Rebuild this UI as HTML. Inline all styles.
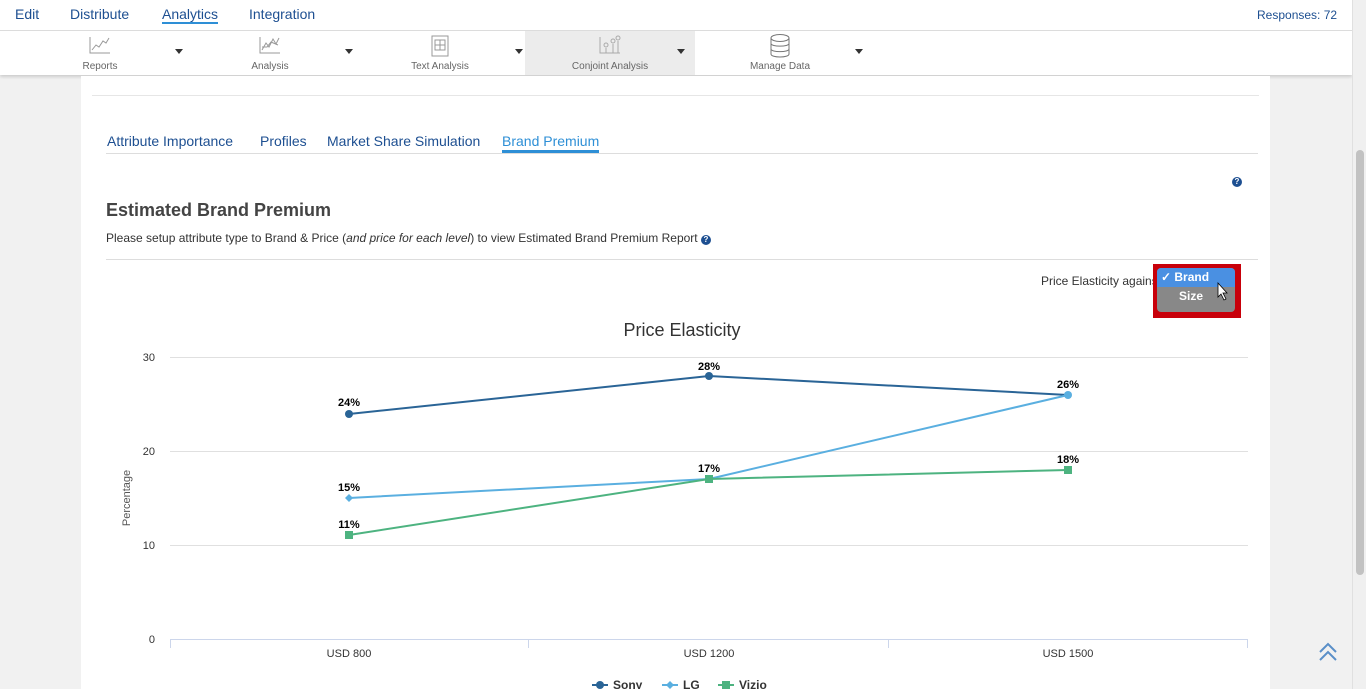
<!DOCTYPE html>
<html><head><meta charset="utf-8"><style>
body{margin:0;width:1366px;height:689px;overflow:hidden;background:#f1f1f1;font-family:"Liberation Sans",sans-serif;position:relative}
.top{position:absolute;left:0;top:0;width:1352px;height:30px;background:#fff;border-bottom:1px solid #ddd}
.top span{position:absolute;top:6px;font-size:14px;color:#1d4f91}
.tool{position:absolute;left:0;top:31px;width:1352px;height:44px;background:#fff;box-shadow:0 2px 3px rgba(0,0,0,.15)}
.ti{position:absolute;top:0;height:44px;width:170px;font-size:10px;color:#666;text-align:center}
.ti .lb{position:absolute;bottom:3px;left:0;width:140px;text-align:center}
.ti .ar{position:absolute;left:145px;top:18px;width:0;height:0;border-left:4px solid transparent;border-right:4px solid transparent;border-top:5px solid #333}
.ti svg{position:absolute;left:58px;top:4px}
.card{position:absolute;left:81px;top:76px;width:1189px;height:613px;background:#fff}
.t{position:absolute;white-space:nowrap}
.sb{position:absolute;left:1352px;top:0;width:14px;height:689px;background:#f0f0f0;border-left:1px solid #e0e0e0}
</style></head><body>
<div class="top"><span style="left:15px">Edit</span><span style="left:70px">Distribute</span><span style="left:162px;border-bottom:2px solid #2e8fd6">Analytics</span><span style="left:249px">Integration</span><span style="left:1257px;top:8px;font-size:12px">Responses: 72</span></div>
<div class="tool">
<div class="ti" style="left:30px"><svg width="24" height="20"><path d="M2 2V18H22" stroke="#999" fill="none"/><path d="M4 15L8 10L11 12L15 6L18 8L21 3" stroke="#999" fill="none"/></svg><div class="lb">Reports</div><div class="ar"></div></div>
<div class="ti" style="left:200px"><svg width="24" height="20"><path d="M2 2V18H22" stroke="#999" fill="none"/><path d="M4 15L8 8L11 12L15 4L18 9L21 3M4 12L9 12L13 7L20 10" stroke="#999" fill="none"/></svg><div class="lb">Analysis</div><div class="ar"></div></div>
<div class="ti" style="left:370px"><svg width="24" height="22"><rect x="4" y="1" width="16" height="20" stroke="#999" fill="none"/><rect x="7" y="5" width="10" height="10" stroke="#999" fill="none"/><path d="M12 5V15M7 10H17" stroke="#999"/></svg><div class="lb">Text Analysis</div><div class="ar"></div></div>
<div class="ti" style="left:525px;background:#ececec;width:170px"><svg width="24" height="20" style="left:73px"><path d="M2 2V18H22" stroke="#aaa" fill="none"/><circle cx="8" cy="10" r="2" stroke="#aaa" fill="none"/><circle cx="15" cy="6" r="2" stroke="#aaa" fill="none"/><circle cx="20" cy="3" r="2" stroke="#aaa" fill="none"/><path d="M8 13V18M15 9V18M20 6V18" stroke="#aaa"/></svg><div class="lb" style="left:15px">Conjoint Analysis</div><div class="ar" style="left:152px"></div></div>
<div class="ti" style="left:710px"><svg width="24" height="26" style="top:2px"><ellipse cx="12" cy="5" rx="9" ry="3.5" stroke="#777" fill="none"/><path d="M3 5V21C3 25 21 25 21 21V5M3 10.5C3 14 21 14 21 10.5M3 16C3 19.5 21 19.5 21 16" stroke="#777" fill="none"/></svg><div class="lb">Manage Data</div><div class="ar"></div></div>
</div>
<div class="sb"><div style="position:absolute;left:3px;top:150px;width:8px;height:425px;background:#c2c2c2;border-radius:4px"></div></div>
<div class="card">
<div style="position:absolute;left:11px;top:19px;width:1167px;border-top:1px solid #e6e6e6"></div>
<div class="t" style="left:26px;top:57px;font-size:14px;color:#1d4f91">Attribute Importance</div>
<div class="t" style="left:179px;top:57px;font-size:14px;color:#1d4f91">Profiles</div>
<div class="t" style="left:246px;top:57px;font-size:14px;color:#1d4f91">Market Share Simulation</div>
<div class="t" style="left:421px;top:57px;font-size:14px;color:#2e8fd6;border-bottom:3px solid #2e8fd6;padding-bottom:1px">Brand Premium</div>
<div style="position:absolute;left:25px;top:77px;width:1152px;border-top:1px solid #ddd"></div>
<div style="position:absolute;left:1151px;top:101px;width:10px;height:10px;border-radius:50%;background:#1d4f91;color:#fff;font-size:8px;text-align:center;line-height:10px;font-weight:bold">?</div>
<div class="t" style="left:25px;top:124px;font-size:18px;font-weight:bold;color:#444">Estimated Brand Premium</div>
<div class="t" style="left:25px;top:155px;font-size:12px;color:#333">Please setup attribute type to Brand &amp; Price (<i>and price for each level</i>) to view Estimated Brand Premium Report <span style="display:inline-block;width:10px;height:10px;border-radius:50%;background:#1d4f91;color:#fff;font-size:8px;text-align:center;line-height:10px;font-weight:bold">?</span></div>
<div style="position:absolute;left:25px;top:183px;width:1152px;border-top:1px solid #ddd"></div>
<div class="t" style="left:960px;top:198px;font-size:12px;color:#333">Price Elasticity agains</div>
<div style="position:absolute;left:1072px;top:188px;width:88px;height:54px;box-sizing:border-box;background:#c8000a">
<div style="position:absolute;left:4px;top:4px;width:78px;height:44px;background:#888;border-radius:4px;overflow:hidden">
<div style="height:19px;background:#4a90e2;color:#fff;font-size:12px;font-weight:bold;line-height:19px;padding-left:4px">✓ Brand</div>
<div style="color:#fff;font-size:12px;font-weight:bold;line-height:19px;padding-left:22px">Size</div></div></div>
</div>
<svg style="position:absolute;left:0;top:0" width="1352" height="689" font-family="Liberation Sans, sans-serif">
<path d="M1218 283 L1218 297 L1221 294 L1224 300 L1226 299 L1223 293 L1227 293 Z" fill="#fff" stroke="#000" stroke-width="0.8"/>
<text x="682" y="336" font-size="18" fill="#333" text-anchor="middle">Price Elasticity</text>
<g stroke="#e0e0e0"><line x1="170" x2="1248" y1="357.5" y2="357.5"/><line x1="170" x2="1248" y1="451.5" y2="451.5"/><line x1="170" x2="1248" y1="545.5" y2="545.5"/></g>
<line x1="170" x2="1248" y1="639.5" y2="639.5" stroke="#ccd6eb"/>
<g stroke="#ccd6eb"><line x1="170.5" x2="170.5" y1="639" y2="648"/><line x1="528.5" x2="528.5" y1="639" y2="648"/><line x1="888.5" x2="888.5" y1="639" y2="648"/><line x1="1247.5" x2="1247.5" y1="639" y2="648"/></g>
<g font-size="11" fill="#333" text-anchor="end"><text x="155" y="361">30</text><text x="155" y="455">20</text><text x="155" y="549">10</text><text x="155" y="643">0</text></g>
<text transform="translate(130,498) rotate(-90)" font-size="11" fill="#555" text-anchor="middle">Percentage</text>
<g font-size="11" fill="#333" text-anchor="middle"><text x="349" y="657">USD 800</text><text x="709" y="657">USD 1200</text><text x="1068" y="657">USD 1500</text></g>
<polyline points="349,414 709,376 1068,395" fill="none" stroke="#2a6496" stroke-width="2"/>
<polyline points="349,498 709,479 1068,395" fill="none" stroke="#5aafe0" stroke-width="2"/>
<polyline points="349,535 709,479 1068,470" fill="none" stroke="#4db380" stroke-width="2"/>
<g fill="#2a6496"><circle cx="349" cy="414" r="4"/><circle cx="709" cy="376" r="4"/></g>
<circle cx="1068" cy="395" r="4" fill="#5aafe0"/>
<g fill="#5aafe0"><path d="M349 494 L353 498 L349 502 L345 498Z"/></g>
<g fill="#4db380"><rect x="345" y="531" width="8" height="8"/><rect x="705" y="475" width="8" height="8"/><rect x="1064" y="466" width="8" height="8"/></g>
<g font-size="11" font-weight="bold" fill="#000" text-anchor="middle"><text x="349" y="406">24%</text><text x="709" y="370">28%</text><text x="1068" y="388">26%</text><text x="349" y="491">15%</text><text x="709" y="472">17%</text><text x="1068" y="463">18%</text><text x="349" y="528">11%</text></g>
<g font-size="12" font-weight="bold" fill="#333">
<line x1="592" x2="608" y1="685" y2="685" stroke="#2a6496" stroke-width="2"/><circle cx="600" cy="685" r="4" fill="#2a6496"/><text x="613" y="689">Sony</text>
<line x1="662" x2="678" y1="685" y2="685" stroke="#5aafe0" stroke-width="2"/><path d="M670 681 L674 685 L670 689 L666 685Z" fill="#5aafe0"/><text x="683" y="689">LG</text>
<line x1="718" x2="734" y1="685" y2="685" stroke="#4db380" stroke-width="2"/><rect x="722" y="681" width="8" height="8" fill="#4db380"/><text x="739" y="689">Vizio</text>
</g>
<path d="M1320 652 L1328 644 L1336 652 M1320 660 L1328 652 L1336 660" stroke="#5a8fc8" stroke-width="2" fill="none"/>
</svg>
</body></html>
